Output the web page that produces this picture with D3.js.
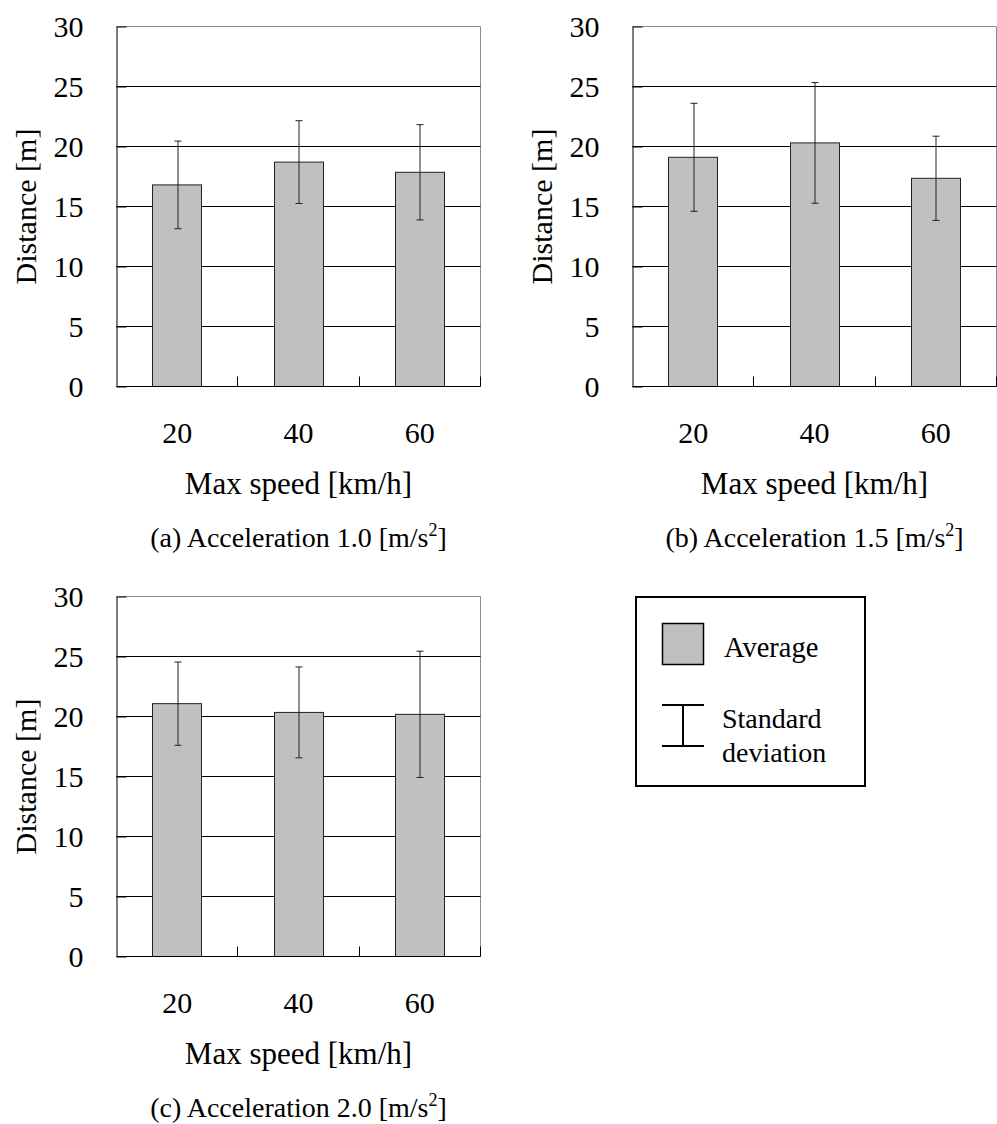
<!DOCTYPE html>
<html>
<head>
<meta charset="utf-8">
<script src="https://cdn.jsdelivr.net/npm/d3@7/dist/d3.min.js"></script>
<style>
  html, body { margin: 0; padding: 0; background: #fff; }
  svg text { font-family: "Liberation Serif", "Times New Roman", serif; fill: #000; }
</style>
</head>
<body>
<svg id="chart" width="997" height="1124"></svg>
<script>
// ---- data ----
const categories = ["20", "40", "60"];
const yTicks = [0, 5, 10, 15, 20, 25, 30];
const meanA = [16.8, 18.7, 17.85];
const sdA   = [3.65, 3.45, 3.97];
const meanB = [19.1, 20.3, 17.35];
const sdB   = [4.5, 5.03, 3.51];
const meanC = [21.07, 20.34, 20.18];
const sdC   = [3.47, 3.79, 5.26];
const titles = ["(a) Acceleration 1.0 [m/s", "(b) Acceleration 1.5 [m/s", "(c) Acceleration 2.0 [m/s"];
const xLabel = "Max speed [km/h]";
const yLabel = "Distance [m]";
const legendLabels = ["Average", "Standard", "deviation"];

// ---- layout ----
const W = 364, H = 360;
const svg = d3.select("#chart");

const x = d3.scaleBand().domain(categories).range([0, W]).paddingInner(0.6).paddingOuter(0.3);
const y = d3.scaleLinear().domain([0, 30]).range([H, 0]);

function drawPanel(ox, oy, means, sds, title) {
  const g = svg.append("g").attr("transform", `translate(${ox},${oy})`);
  const rows = categories.map((c, i) => ({ c, m: means[i], s: sds[i] }));

  // frame (top/right gray)
  g.append("line").attr("x1", 0).attr("x2", W).attr("y1", y(30)).attr("y2", y(30))
    .attr("stroke", "#8c8c8c").attr("stroke-width", 1);
  g.append("line").attr("x1", W).attr("x2", W).attr("y1", y(30)).attr("y2", y(0))
    .attr("stroke", "#8c8c8c").attr("stroke-width", 1);

  // gridlines
  g.selectAll("line.grid").data(yTicks.filter(t => t > 0 && t < 30)).enter()
    .append("line").attr("class", "grid")
    .attr("x1", 0).attr("x2", W)
    .attr("y1", d => y(d)).attr("y2", d => y(d))
    .attr("stroke", "#000").attr("stroke-width", 1);

  // bars
  g.selectAll("rect.bar").data(rows).enter().append("rect").attr("class", "bar")
    .attr("x", d => Math.round(x(d.c)))
    .attr("y", d => y(d.m))
    .attr("width", Math.round(x.bandwidth()))
    .attr("height", d => y(0) - y(d.m))
    .attr("fill", "#c0c0c0").attr("stroke", "#222").attr("stroke-width", 1);

  // error bars
  const cx = d => Math.round(x(d.c) + x.bandwidth() / 2) + 0.5;
  const eb = g.selectAll("g.err").data(rows).enter().append("g").attr("class", "err")
    .attr("stroke", "#222").attr("stroke-width", 1);
  eb.append("line").attr("x1", cx).attr("x2", cx)
    .attr("y1", d => y(d.m + d.s)).attr("y2", d => y(d.m - d.s));
  eb.append("line").attr("x1", d => cx(d) - 3.5).attr("x2", d => cx(d) + 3.5)
    .attr("y1", d => y(d.m + d.s)).attr("y2", d => y(d.m + d.s));
  eb.append("line").attr("x1", d => cx(d) - 3.5).attr("x2", d => cx(d) + 3.5)
    .attr("y1", d => y(d.m - d.s)).attr("y2", d => y(d.m - d.s));

  // y axis
  const ya = g.append("g").call(d3.axisLeft(y).tickValues(yTicks).tickSizeInner(-10).tickSizeOuter(0).tickPadding(33));
  ya.select(".domain").attr("stroke", "#000");
  ya.selectAll(".tick line").attr("stroke", "#000");
  ya.selectAll(".tick text").attr("font-size", 30).attr("font-family", "Liberation Serif").attr("fill", "#000");

  // x axis line + inward ticks at category boundaries
  g.append("line").attr("x1", 0).attr("x2", W).attr("y1", H).attr("y2", H).attr("stroke", "#000");
  const bounds = categories.map(c => x(c) + x.bandwidth() + (x.step() - x.bandwidth()) / 2);
  g.selectAll("line.xt").data(bounds).enter().append("line").attr("class", "xt")
    .attr("x1", d => Math.round(d)).attr("x2", d => Math.round(d))
    .attr("y1", H).attr("y2", H - 10).attr("stroke", "#000");

  // x tick labels
  g.selectAll("text.xl").data(categories).enter().append("text").attr("class", "xl")
    .attr("x", d => x(d) + x.bandwidth() / 2).attr("y", H + 56.5)
    .attr("text-anchor", "middle").attr("font-size", 30).text(d => d);

  // axis titles
  g.append("text").attr("x", W / 2).attr("y", H + 107.5).attr("text-anchor", "middle")
    .attr("font-size", 31).text(xLabel);
  g.append("text").attr("transform", `translate(-81,${H / 2}) rotate(-90)`)
    .attr("text-anchor", "middle").attr("font-size", 30).text(yLabel);

  // panel title with superscript
  const t = g.append("text").attr("x", W / 2).attr("y", H + 160.5).attr("text-anchor", "middle")
    .attr("font-size", 28);
  t.append("tspan").text(title);
  t.append("tspan").attr("font-size", 18).attr("dy", -11).text("2");
  t.append("tspan").attr("dy", 11).text("]");
}

drawPanel(116.5, 26.5, meanA, sdA, titles[0]);
drawPanel(632.5, 26.5, meanB, sdB, titles[1]);
drawPanel(116.5, 596.5, meanC, sdC, titles[2]);

// legend
const lg = svg.append("g");
lg.append("rect").attr("x", 636).attr("y", 597).attr("width", 229).attr("height", 189)
  .attr("fill", "none").attr("stroke", "#000").attr("stroke-width", 2);
lg.append("rect").attr("x", 662.5).attr("y", 623.5).attr("width", 41).attr("height", 41)
  .attr("fill", "#c0c0c0").attr("stroke", "#000").attr("stroke-width", 1.5);
lg.append("text").attr("x", 724).attr("y", 657).attr("font-size", 28.5).text(legendLabels[0]);
const ls = lg.append("g").attr("stroke", "#000").attr("stroke-width", 2);
ls.append("line").attr("x1", 683).attr("x2", 683).attr("y1", 705).attr("y2", 746);
ls.append("line").attr("x1", 662).attr("x2", 704).attr("y1", 705).attr("y2", 705);
ls.append("line").attr("x1", 662).attr("x2", 704).attr("y1", 746).attr("y2", 746);
lg.append("text").attr("x", 722).attr("y", 728).attr("font-size", 28).text(legendLabels[1]);
lg.append("text").attr("x", 722).attr("y", 762).attr("font-size", 28).text(legendLabels[2]);
</script>
</body>
</html>
